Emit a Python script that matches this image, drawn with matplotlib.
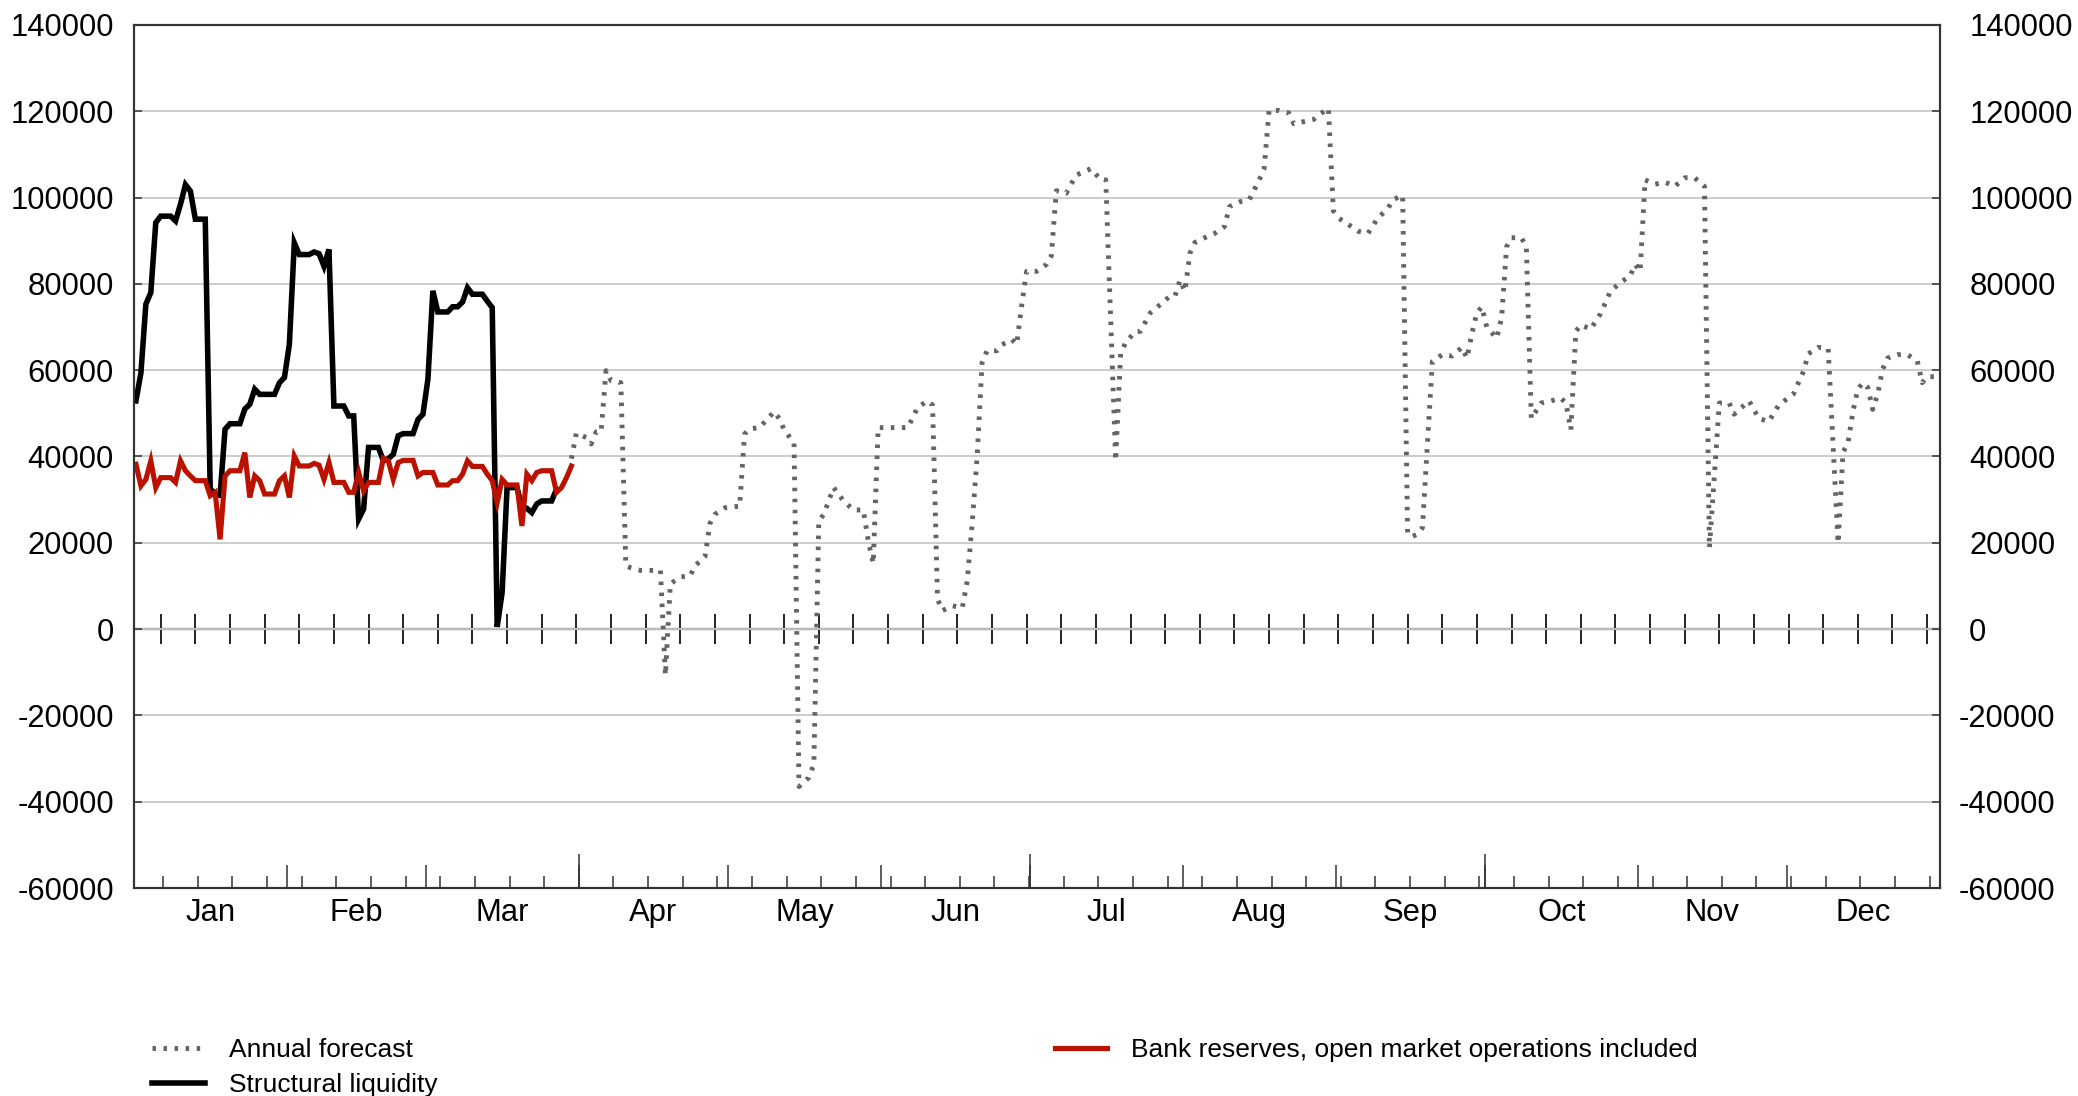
import numpy as np
import matplotlib.pyplot as plt
from matplotlib.transforms import ScaledTranslation

plt.rcParams['font.family'] = ['Liberation Sans', 'DejaVu Sans']
plt.rcParams['axes.unicode_minus'] = False

# calendar
months = ['Jan', 'Feb', 'Mar', 'Apr', 'May', 'Jun',
          'Jul', 'Aug', 'Sep', 'Oct', 'Nov', 'Dec']
month_lengths = [31, 28, 31, 30, 31, 30, 31, 31, 30, 31, 30, 31]

# structural liquidity, daily from 1 Jan
structural = [52900, 59400, 75300, 78000, 94200, 95700, 95700, 95700, 94600, 98500,
              103000, 101500, 95000, 95000, 95000, 32500, 31300, 31000, 46300, 47600,
              47600, 47600, 51000, 52100, 55600, 54400, 54400, 54400, 54400, 57100,
              58300, 66000, 89500, 86800, 86800, 86800, 87400, 87000, 84100, 88000,
              51700, 51700, 51700, 49400, 49400, 25500, 27800, 42100, 42100, 42100,
              39000, 39500, 40500, 44800, 45300, 45300, 45300, 48600, 49800, 57900,
              78400, 73500, 73500, 73500, 74700, 74700, 75800, 79100, 77600, 77600,
              77600, 76000, 74500, 500, 8500, 32800, 32800, 32800, 28200, 28000,
              27000, 29000, 29700, 29700, 29700, 32400]

# bank reserves, open market operations included, daily from 1 Jan
reserves = [38200, 33200, 34700, 39000, 32800, 35100, 35100, 35100, 34000, 39000,
            36700, 35500, 34400, 34400, 34400, 30900, 31700, 20800, 35500, 36700,
            36700, 36700, 40900, 30500, 35500, 34400, 31300, 31300, 31300, 34400,
            35500, 30500, 40100, 37800, 37800, 37800, 38400, 38000, 34700, 38600,
            34000, 34000, 34000, 31700, 31700, 36300, 32000, 34000, 34000, 34000,
            39600, 39000, 34700, 38600, 39100, 39100, 39100, 35500, 36300, 36300,
            36300, 33400, 33400, 33400, 34400, 34400, 35900, 39000, 37700, 37700,
            37700, 35900, 34400, 29300, 34700, 33400, 33400, 33400, 23900, 35900,
            34400, 36300, 36700, 36700, 36700, 31700, 32800, 35100, 37800]

# annual forecast (day of year, value)
forecast_days = [88, 89, 91, 92, 93, 94, 95, 96, 98, 99, 100, 102, 106, 107, 108, 110,
                 112, 113, 115, 116, 117, 119, 121, 122, 123, 124, 126, 129, 130, 131,
                 133, 134, 136, 137, 138, 139, 141, 143, 145, 147, 148, 149, 150, 153,
                 156, 158, 160, 161, 162, 163, 165, 167, 168, 169, 170, 171, 172, 174,
                 175, 177, 178, 179, 180, 182, 184, 185, 186, 188, 190, 192, 193, 195,
                 196, 198, 199, 200, 202, 203, 205, 207, 209, 210, 211, 212, 213, 214,
                 216, 218, 220, 221, 223, 225, 227, 228, 229, 231, 233, 234, 236, 238,
                 239, 241, 242, 243, 245, 247, 249, 251, 253, 254, 256, 257, 258, 259,
                 260, 262, 264, 266, 268, 269, 270, 271, 272, 273, 275, 276, 277, 278,
                 280, 281, 282, 284, 286, 288, 289, 290, 291, 292, 294, 296, 298, 300,
                 302, 303, 304, 305, 307, 309, 311, 313, 315, 317, 318, 320, 322, 323,
                 326, 328, 330, 332, 335, 337, 338, 340, 342, 344, 345, 346, 347, 348,
                 349, 350, 351, 352, 353, 354, 356, 358, 360, 361, 362, 364]
forecast_vals = [39500, 45400, 44400, 42900, 45700, 45700, 59900, 57600, 57100, 14700,
                 14200, 13600, 13600, -10700, 10500, 12100, 12300, 14700, 16800, 24500,
                 26600, 28100, 28400, 28400, 45200, 46400, 46700, 50400, 48800, 46200,
                 43100, -36500, -34400, -31300, 25000, 26600, 32800, 29700, 27600, 27600,
                 20400, 15200, 46700, 46700, 46700, 51400, 52900, 51900, 6900, 4300,
                 5400, 4900, 11100, 24500, 40000, 61700, 64500, 64500, 65900, 67100,
                 66000, 75000, 82900, 82900, 84500, 86500, 101600, 101000, 105200, 106200,
                 106700, 104100, 104100, 39000, 63800, 66400, 69000, 69000, 73300, 75200,
                 77200, 77200, 80900, 78300, 87100, 89600, 90700, 91700, 93300, 97900,
                 99000, 99500, 104100, 106700, 120200, 120200, 119600, 117100, 117600, 118100,
                 119100, 120700, 96900, 95300, 93800, 92200, 91700, 95300, 97400, 99500,
                 100500, 22000, 21500, 22000, 23500, 62000, 63600, 63300, 65300, 62800,
                 68500, 73300, 74700, 70000, 67400, 72100, 88600, 90700, 90700, 88600,
                 48800, 52400, 52900, 53500, 52400, 46200, 69000, 70500, 69500, 73100,
                 78300, 80300, 81900, 84500, 82900, 104100, 103100, 103600, 102600, 104600,
                 104600, 102600, 18800, 52400, 52400, 49800, 52900, 48800, 48100, 51900,
                 54500, 59700, 63800, 65300, 65000, 19900, 41000, 43100, 50400, 55600,
                 57100, 56000, 50900, 54500, 60200, 62800, 63600, 63600, 62200, 57100,
                 58500, 58500]

y_ticks = list(range(-60000, 140001, 20000))

# positions on the day axis
off = 0.4
month_bounds = np.concatenate([[0], np.cumsum(month_lengths)])
month_mids = (month_bounds[:-1] + month_bounds[1:]) / 2
quarter_bounds = month_bounds[[3, 6, 9]]
year_bounds = month_bounds[[0, 12]]
weeks_zero = np.arange(5, 365, 7) + off
weeks_bottom = np.arange(5, 365, 7) + off + 0.5

fig = plt.figure(figsize=(20.78, 10.96), dpi=100)
ax = fig.add_axes([134 / 2078, 1 - 888 / 1096, 1806 / 2078, 863 / 1096])

fc, = ax.plot(np.array(forecast_days) + off, forecast_vals, color='#646464', lw=3.5,
              linestyle=(0, (0.72, 1.55)), dash_capstyle='butt', zorder=2)
sl, = ax.plot(np.arange(len(structural)) + off, structural, color='black', lw=4.0,
              solid_joinstyle='miter', zorder=3)
br, = ax.plot(np.arange(len(reserves)) + off, reserves, color='#bb1200', lw=3.7,
              solid_joinstyle='miter', zorder=4)

ax.set_xlim(0, 365)
ax.set_ylim(-60000, 140000)
ax.set_yticks(y_ticks, labels=[str(v) for v in y_ticks])
ax.yaxis.grid(True, color='#c8c8c8', lw=1.3)
ax.set_axisbelow(True)
ax.tick_params(axis='y', direction='in', length=5.8, width=1.1, color='#333333',
               labelsize=22.3, pad=14.4)

# month names, weekly ticks on the bottom axis
ax.set_xticks(month_mids, labels=months)
ax.set_xticks(weeks_bottom, minor=True)
ax.tick_params(axis='x', which='major', length=0, labelsize=22.3, pad=7)
ax.tick_params(axis='x', which='minor', direction='in', length=8.6, width=1.1,
               color='#333333')

for spine in ax.spines.values():
    spine.set_color('#333333')
    spine.set_linewidth(1.5)

# month, quarter and year ticks on the bottom axis
for bounds, length in [(month_bounds[1:-1], 16.6), (quarter_bounds, 24.5), (year_bounds, 32)]:
    sec = ax.secondary_xaxis('bottom')
    sec.set_xticks(bounds)
    sec.tick_params(axis='x', direction='in', length=length, width=1.1, color='#333333',
                    labelbottom=False)
    sec.spines['bottom'].set_visible(False)

# zero line with weekly ticks
zero = ax.secondary_xaxis(0.3)
zero.set_xticks(weeks_zero)
zero.tick_params(axis='x', direction='inout', length=21.6, width=1.2, color='black',
                 labelbottom=False)
zero.spines['bottom'].set_color('#444444')
zero.spines['bottom'].set_linewidth(1.6)

# right hand scale
ax2 = ax.twinx()
ax2.set_ylim(-60000, 140000)
ax2.set_yticks(y_ticks, labels=[str(v) for v in y_ticks])
ax2.tick_params(axis='y', direction='in', length=5.8, width=1.1, color='#333333',
                labelsize=22.3, pad=21)
for spine in ax2.spines.values():
    spine.set_color('#333333')
    spine.set_linewidth(1.5)
hang = ScaledTranslation(-0.333 * 22.3 / 72, 0, fig.dpi_scale_trans)
for tick, v in zip(ax2.yaxis.get_major_ticks(), y_ticks):
    if v < 0:
        tick.label2.set_transform(tick.label2.get_transform() + hang)

fig.legend([fc, sl, br],
           ['Annual forecast', 'Structural liquidity',
            'Bank reserves, open market operations included'],
           loc='upper left', bbox_to_anchor=(152 / 2078, 1 - 1038 / 1096), ncol=2,
           frameon=False, fontsize=19, handlelength=2.0, handletextpad=0.9,
           columnspacing=23.4, borderpad=0, borderaxespad=0, labelspacing=0.42)

fig.savefig('out.png', dpi=100)
